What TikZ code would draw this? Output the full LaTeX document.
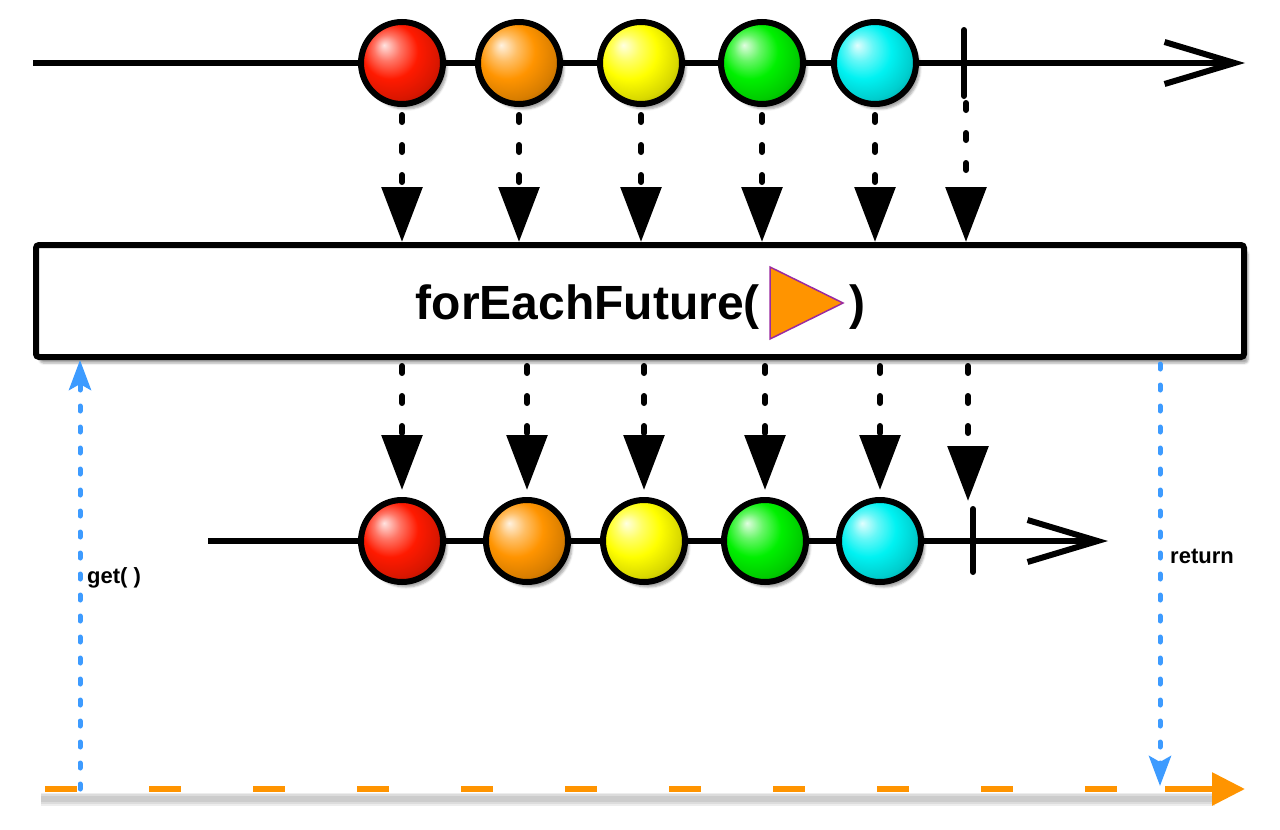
\documentclass[tikz,border=0pt]{standalone}
\usepackage{fontspec}
\setmainfont{Liberation Sans}
\usepackage{tikz}
\usetikzlibrary{positioning,arrows.meta,calc,shadows.blur}
\definecolor{MBred}{HTML}{FF1A00}
\definecolor{MBorange}{HTML}{FF9400}
\definecolor{MByellow}{HTML}{FFFF00}
\definecolor{MBgreen}{HTML}{00F000}
\definecolor{MBcyan}{HTML}{00F2F2}
\definecolor{MBblue}{HTML}{3D9BFF}
\definecolor{MBpurple}{HTML}{9A2BA0}
\definecolor{MBnow}{HTML}{FF9400}
\makeatletter
\pgfdeclareradialshading[tikz@ball]{marbleball}{\pgfqpoint{-11bp}{11bp}}{%
  color(0bp)=(tikz@ball!12!white); color(8bp)=(tikz@ball!60!white);
  color(17bp)=(tikz@ball); color(27bp)=(tikz@ball!85!black);
  color(36bp)=(tikz@ball!60!black); color(50bp)=(tikz@ball!40!black)}
\makeatother
\tikzset{
  timeline/.style={line width=6pt, draw=black, -{Straight Barb[length=70pt, width=42pt]}},
  endtick/.style={line width=6pt, line cap=round},
  marble/.style={circle, draw=black, line width=6pt, minimum size=82pt, inner sep=0pt, ball color=#1, shading=marbleball, blur shadow={shadow xshift=4pt, shadow yshift=-5pt, shadow opacity=35}},
  emit/.style={line width=6pt, line cap=round, dash pattern=on 7pt off 23pt, -{Triangle[length=55pt, width=40pt]}},
  opbox/.style={draw=black, line width=6pt, fill=white, rounded corners=3pt, minimum width=1208pt, minimum height=112pt, inner sep=0pt, blur shadow={shadow xshift=4pt, shadow yshift=-6pt, shadow opacity=35}},
  optext/.style={font=\fontsize{48}{56}\selectfont\bfseries, inner sep=0pt},
  fnglyph/.style={fill=MBorange, draw=MBpurple, line width=1.5pt, line join=miter},
  callarr/.style={draw=MBblue, line width=5pt, line cap=round, dash pattern=on 5pt off 16pt, -{Stealth[length=30pt, width=22pt, inset=6pt]}},
  calltext/.style={font=\fontsize{22}{26}\selectfont\bfseries, inner sep=0pt},
  futbase/.style={line width=8pt, draw=white},
  futshade/.style={line width=#1, draw=black, opacity=0.07},
  futdash/.style={line width=6pt, draw=MBnow, dash pattern=on 32pt off 72pt, dash phase=92pt},
  futtip/.style={line width=6pt, draw=MBnow, -{Triangle[length=33pt, width=32pt]}}
}

\begin{document}
\begin{tikzpicture}[x=1pt, y=-1pt]
\useasboundingbox (0,0) rectangle (1280,830);
% source sequence
\coordinate (srcA) at (33,63);
\coordinate (srcB) at (1245,63);
\coordinate (srcEnd) at (964,63);
\draw[timeline] (srcA) -- (srcB);
\draw[endtick] ([yshift=33pt]srcEnd) -- ([yshift=-33pt]srcEnd);
\foreach \x/\c [count=\i] in {402/MBred, 519/MBorange, 641/MByellow, 762/MBgreen, 875/MBcyan}
  \node[marble=\c] (s\i) at (\x,63) {};

% operator
\node[opbox] (op) at (640,301) {};
\node[optext, anchor=base east] (opname) at (760,319) {forEachFuture(};
\draw[fnglyph] (770,267) -- (843,303) -- (770,339) -- cycle;
\node[optext, anchor=base west] (opclose) at (849,319) {)};

\foreach \i in {1,...,5}
  \draw[emit] ($(s\i.south)+(0,8)$) -- (s\i |- op.north);
\draw[emit] ($(srcEnd)+(2,40)$) -- ($(srcEnd |- op.north)+(2,0)$);

% result sequence
\coordinate (resA) at (208,541);
\coordinate (resB) at (1108,541);
\coordinate (resEnd) at (973,541);
\draw[timeline] (resA) -- (resB);
\draw[endtick] ([yshift=32pt]resEnd) -- ([yshift=-31pt]resEnd);
\foreach \x/\c [count=\i] in {402/MBred, 527/MBorange, 644/MByellow, 765/MBgreen, 880/MBcyan}
  \node[marble=\c] (r\i) at (\x,541) {};

\foreach \i in {1,...,5}
  \draw[emit] ($(r\i |- op.south)+(0,6)$) -- ($(r\i.north)+(0,-7)$);
\draw[emit] ($(resEnd |- op.south)+(-5,6)$) -- ($(resEnd)+(-5,-40)$);

% future
\coordinate (futA) at (33,789);
\coordinate (futC) at (1165,789);
\coordinate (futB) at (1245,789);
\foreach \w in {6,10,14}
  \draw[futshade=\w pt] ($(futA)+(8,10)$) -- ($(futB)+(-30,10)$);
\draw[futbase] (futA) -- (futB);
\draw[futdash] (futA) -- (futC);
\draw[futtip] (futC) -- (futB);

% get / return
\coordinate (getA) at (80,789);
\coordinate (retB) at (1160,786);
\draw[callarr] (getA) -- (getA |- op.south);
\draw[callarr] ($(retB |- op.south)+(0,4)$) -- (retB);
\node[calltext, anchor=west] (getlbl) at (87,578) {get( )};
\node[calltext, anchor=west] (retlbl) at (1170,556) {return};
\end{tikzpicture}
\end{document}
